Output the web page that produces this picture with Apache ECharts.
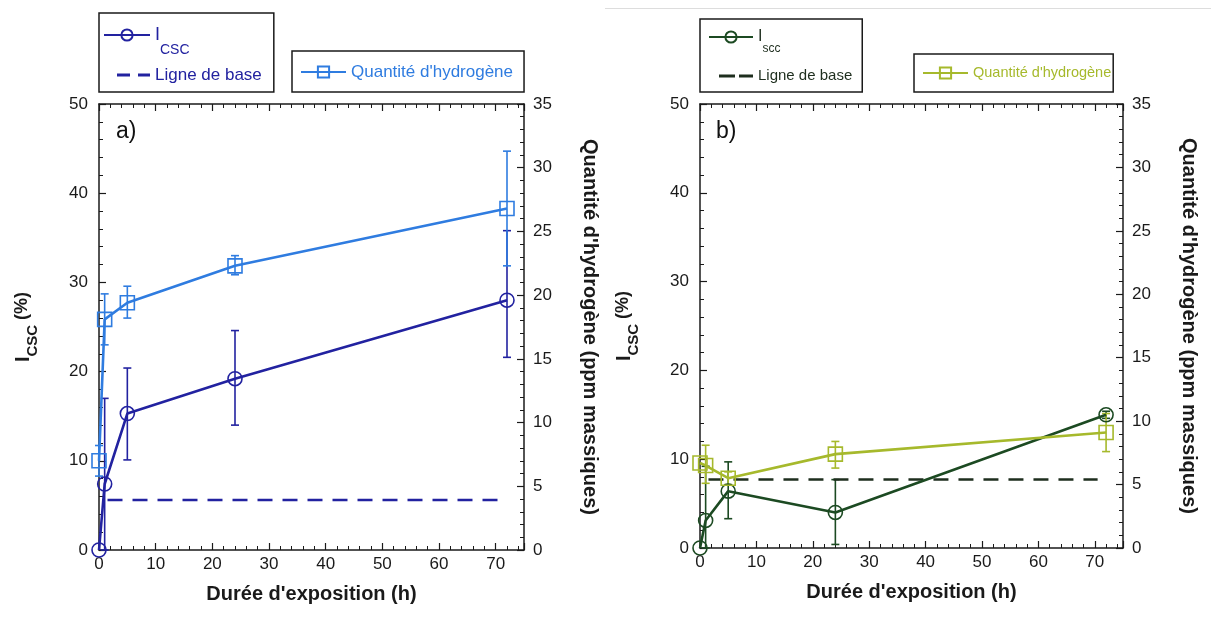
<!DOCTYPE html>
<html><head><meta charset="utf-8">
<script src="https://cdn.jsdelivr.net/npm/echarts@6/dist/echarts.min.js"></script>
<style>html,body{margin:0;padding:0;background:#fff}#c{width:1211px;height:617px}</style>
</head><body><div id="c"></div>
<script>
// ---- data ----
const hours = [0, 1, 5, 24, 72];
const xTickLabels = [0, 10, 20, 30, 40, 50, 60, 70];
const leftTickLabels = [0, 10, 20, 30, 40, 50];
const rightTickLabels = [0, 5, 10, 15, 20, 25, 30, 35];

const aIcsc     = [0, 7.4, 15.3, 19.2, 28.0];
const aIcscLow  = [0, 0, 10.1, 14.0, 21.6];
const aIcscHigh = [0, 17.0, 20.4, 24.6, 35.8];
const aHyd      = [7.0, 18.1, 19.4, 22.3, 26.8];
const aHydLow   = [5.8, 16.1, 18.2, 21.6, 22.3];
const aHydHigh  = [8.2, 20.1, 20.7, 23.1, 31.3];
const aBaseX    = [1.5, 70.5];
const aBaseY    = [5.6, 5.6];

const bIscc     = [0, 3.1, 6.4, 4.0, 15.0];
const bIsccLow  = [0, 0, 3.3, 0.4, 14.6];
const bIsccHigh = [0, 9.2, 9.7, 7.7, 15.4];
const bHyd      = [6.7, 6.5, 5.5, 7.4, 9.1];
const bHydLow   = [6.7, 5.1, 5.0, 6.3, 7.6];
const bHydHigh  = [6.7, 8.1, 6.0, 8.4, 10.6];
const bBaseX    = [1.5, 70.5];
const bBaseY    = [7.7, 7.7];

// ---- styles ----
const FONT = '"Liberation Sans", Arial, sans-serif';
const AX = '#1a1a1a';
const C_NAVY = '#2222a0';
const C_BLUE = '#2f7ce0';
const C_DGREEN = '#1c4a22';
const C_OLIVE = '#a6b92c';
const C_BASEB = '#1e2e1e';

function xAxis(gi, pos, showLabels, name) {
  return {
    type: 'value', gridIndex: gi, position: pos, min: 0, max: 75, interval: 10,
    name: name || '', nameLocation: 'middle', nameGap: 34,
    nameTextStyle: { fontFamily: FONT, fontSize: 20, fontWeight: 'bold', color: AX },
    axisLine: { show: true, onZero: false, lineStyle: { color: AX, width: 1.5 } },
    axisTick: { show: true, inside: true, length: 7, lineStyle: { color: AX, width: 1.2 } },
    minorTick: { show: true, splitNumber: 5, length: 4, lineStyle: { color: AX, width: 1 } },
    axisLabel: { show: showLabels, margin: 6, fontFamily: FONT, fontSize: 17, color: AX,
      formatter: v => xTickLabels.includes(v) ? String(v) : '' },
    splitLine: { show: false }, minorSplitLine: { show: false }
  };
}
function yAxis(gi, pos, max, interval, ticks, nameCfg) {
  const o = {
    type: 'value', gridIndex: gi, position: pos, min: 0, max: max, interval: interval,
    axisLine: { show: true, onZero: false, lineStyle: { color: AX, width: 1.5 } },
    axisTick: { show: true, inside: true, length: 7, lineStyle: { color: AX, width: 1.2 } },
    minorTick: { show: true, splitNumber: 5, length: 4, lineStyle: { color: AX, width: 1 } },
    axisLabel: { show: true, margin: pos === 'left' ? 11 : 9, fontFamily: FONT, fontSize: 17, color: AX,
      formatter: v => ticks.includes(v) ? String(v) : '' },
    splitLine: { show: false }, minorSplitLine: { show: false }
  };
  return Object.assign(o, nameCfg || {});
}
const leftName = {
  name: '{i|I}{s|CSC}{p| (%)}', nameLocation: 'middle', nameGap: 64, nameRotate: 90,
  nameTextStyle: { fontFamily: FONT, fontWeight: 'bold', color: AX,
    rich: {
      i: { fontFamily: FONT, fontSize: 20, fontWeight: 'bold', color: AX, lineHeight: 22, verticalAlign: 'top', padding: [0, 0, 10, 0] },
      s: { fontFamily: FONT, fontSize: 15, fontWeight: 'bold', color: AX, lineHeight: 16, verticalAlign: 'top', padding: [12, 0, 4, 0] },
      p: { fontFamily: FONT, fontSize: 18, fontWeight: 'bold', color: AX, lineHeight: 20, verticalAlign: 'top', padding: [0, 0, 12, 0] }
    } }
};
const rightName = {
  name: "Quantité d'hydrogène (ppm massiques)", nameLocation: 'middle', nameGap: 56, nameRotate: -90,
  nameTextStyle: { fontFamily: FONT, fontSize: 20, fontWeight: 'bold', color: AX }
};

function pts(xs, ys) { return xs.map((x, i) => [x, ys[i]]); }

function lineSeries(name, xi, yi, ys, color, symbol) {
  return {
    type: 'line', name: name, xAxisIndex: xi, yAxisIndex: yi,
    data: pts(hours, ys), symbol: symbol, symbolSize: 14, showSymbol: true,
    lineStyle: { color: color, width: 2.6 },
    itemStyle: { color: 'rgba(255,255,255,0)', borderColor: color, borderWidth: 1.6 },
    emphasis: { disabled: true }, animation: false, z: 3
  };
}
function errSeries(xi, yi, lo, hi, color) {
  return {
    type: 'custom', xAxisIndex: xi, yAxisIndex: yi, silent: true, animation: false, z: 2,
    data: hours.map((h, i) => [h, lo[i], hi[i]]),
    encode: { x: 0, y: [1, 2] },
    renderItem: function (params, api) {
      const x = api.value(0), l = api.value(1), h = api.value(2);
      if (h - l < 0.05) return null;
      const p1 = api.coord([x, l]), p2 = api.coord([x, h]);
      const w = 4, st = { stroke: color, lineWidth: 1.6 };
      return { type: 'group', children: [
        { type: 'line', shape: { x1: p1[0], y1: p1[1], x2: p2[0], y2: p2[1] }, style: st },
        { type: 'line', shape: { x1: p1[0] - w, y1: p1[1], x2: p1[0] + w, y2: p1[1] }, style: st },
        { type: 'line', shape: { x1: p2[0] - w, y1: p2[1], x2: p2[0] + w, y2: p2[1] }, style: st }
      ] };
    }
  };
}
function baseSeries(name, xi, yi, xs, ys, color) {
  return {
    type: 'line', name: name, xAxisIndex: xi, yAxisIndex: yi, data: pts(xs, ys),
    symbol: 'none', lineStyle: { color: color, width: 2.5, type: [15, 10] },
    itemStyle: { color: color }, emphasis: { disabled: true }, animation: false, z: 2
  };
}

function legendBox(left, top, names, pad, fontSize, color, formatter, rich, gap, iw) {
  return {
    left: left, top: top, orient: 'vertical', data: names, selectedMode: false,
    borderColor: AX, borderWidth: 1.5, borderRadius: 0, padding: pad, itemGap: gap || 9,
    itemWidth: iw || 46, itemHeight: 14,
    textStyle: { fontFamily: FONT, fontSize: fontSize, color: color, lineHeight: 20, rich: rich || {} },
    formatter: formatter
  };
}

const subRich = (color, fs, fsub, lh) => ({
  i: { fontFamily: FONT, fontSize: fs, color: color, lineHeight: lh, verticalAlign: 'middle' },
  s: { fontFamily: FONT, fontSize: fsub, color: color, lineHeight: fsub + 1, verticalAlign: 'bottom' }
});

const dashIconA = 'path://M0,0M46,14M13,5.5h13v3h-13zM34,5.5h12v3h-12z';
const dashIconB = 'path://M0,0M44,14M10,5.5h16v3h-16zM30,5.5h14v3h-14z';

const option = {
  backgroundColor: '#fff',
  animation: false,
  title: [
    { text: 'a)', left: 116, top: 120, padding: 0, textStyle: { fontFamily: FONT, fontSize: 23, fontWeight: 'normal', color: '#111' } },
    { text: 'b)', left: 716, top: 120, padding: 0, textStyle: { fontFamily: FONT, fontSize: 23, fontWeight: 'normal', color: '#111' } }
  ],
  graphic: [
    { type: 'line', shape: { x1: 605, y1: 8.5, x2: 1211, y2: 8.5 }, style: { stroke: '#dddddd', lineWidth: 1 }, silent: true }
  ],
  grid: [
    { left: 99, top: 104, width: 425, height: 446, containLabel: false },
    { left: 700, top: 104, width: 423, height: 444, containLabel: false }
  ],
  xAxis: [
    xAxis(0, 'bottom', true, "Durée d'exposition (h)"),
    xAxis(0, 'top', false),
    xAxis(1, 'bottom', true, "Durée d'exposition (h)"),
    xAxis(1, 'top', false)
  ],
  yAxis: [
    yAxis(0, 'left', 50, 10, leftTickLabels, leftName),
    yAxis(0, 'right', 35, 5, rightTickLabels, rightName),
    yAxis(1, 'left', 50, 10, leftTickLabels, leftName),
    yAxis(1, 'right', 35, 5, rightTickLabels, rightName)
  ],
  legend: [
    legendBox(99, 13, ['icsc', { name: 'baseA', icon: dashIconA }], [0, 12, 7, 4], 17, C_NAVY,
      n => n === 'icsc' ? '{i|I}{s|CSC}' : 'Ligne de base', subRich(C_NAVY, 18, 14, 44), 8),
    legendBox(292, 51, ['hydA'], [11, 11, 10, 8], 17, C_BLUE, () => "Quantité d'hydrogène", null, 9, 45),
    legendBox(700, 19, ['iscc', { name: 'baseB', icon: dashIconB }], [0, 10, 6, 8], 15, C_BASEB,
      n => n === 'iscc' ? '{i|I}{s|scc}' : 'Ligne de base', subRich(C_BASEB, 16, 12, 36), 11, 44),
    legendBox(914, 54, ['hydB'], [9, 2, 9, 8], 14.5, C_OLIVE, () => "Quantité d'hydrogène", null, 9, 45)
  ],
  series: [
    errSeries(0, 0, aIcscLow, aIcscHigh, C_NAVY),
    errSeries(0, 1, aHydLow, aHydHigh, C_BLUE),
    baseSeries('baseA', 0, 0, aBaseX, aBaseY, C_NAVY),
    lineSeries('icsc', 0, 0, aIcsc, C_NAVY, 'circle'),
    lineSeries('hydA', 0, 1, aHyd, C_BLUE, 'rect'),

    errSeries(2, 2, bIsccLow, bIsccHigh, C_DGREEN),
    errSeries(2, 3, bHydLow, bHydHigh, C_OLIVE),
    baseSeries('baseB', 2, 2, bBaseX, bBaseY, C_BASEB),
    lineSeries('iscc', 2, 2, bIscc, C_DGREEN, 'circle'),
    lineSeries('hydB', 2, 3, bHyd, C_OLIVE, 'rect')
  ]
};
const chart = echarts.init(document.getElementById('c'), null, { renderer: 'canvas' });
chart.setOption(option);
</script>
</body></html>
